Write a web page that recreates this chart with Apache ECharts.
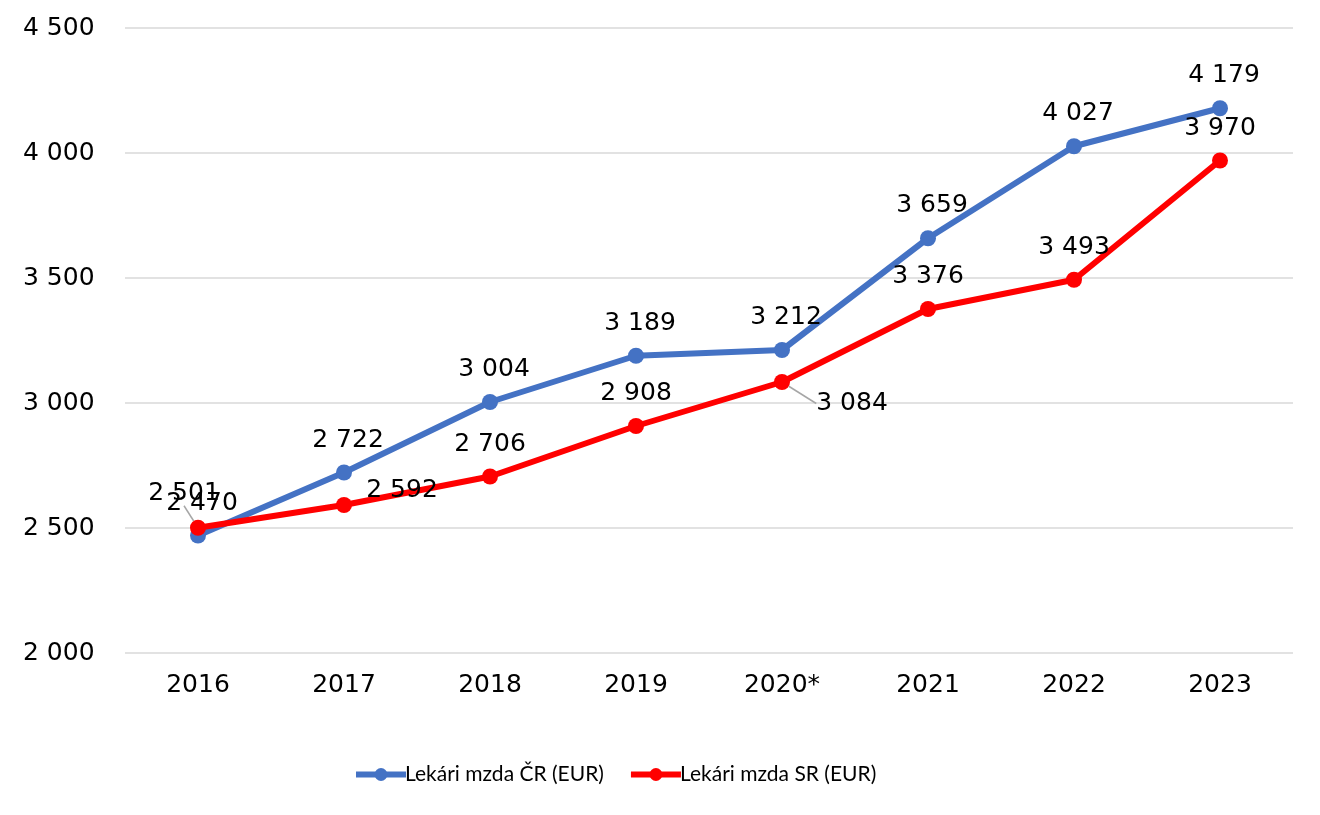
<!DOCTYPE html>
<html><head><meta charset="utf-8">
<script src="https://cdn.jsdelivr.net/npm/echarts@6/dist/echarts.min.js"></script>
<style>html,body{margin:0;padding:0;background:#fff}#c{width:1320px;height:815px}</style>
</head><body><div id="c"></div>
<script>
const categories = ['2016','2017','2018','2019','2020*','2021','2022','2023'];
const mzdaCR = [2470, 2722, 3004, 3189, 3212, 3659, 4027, 4179];
const mzdaSR = [2501, 2592, 2706, 2908, 3084, 3376, 3493, 3970];
const seriesNames = ['Lekári mzda ČR (EUR)', 'Lekári mzda SR (EUR)'];

const fmt = v => String(v).replace(/\B(?=(\d{3})+(?!\d))/g, ' ');
const labelFont = { fontFamily: 'DejaVu Sans', fontSize: 25, color: '#000' };
const guideIdx = [0, 4];

const chart = echarts.init(document.getElementById('c'), null, {renderer: 'canvas'});
chart.setOption({
  animation: false,
  backgroundColor: '#fff',
  grid: { left: 125, right: 27, top: 28, bottom: 162 },
  legend: {
    top: 759, left: 348, itemWidth: 50, itemHeight: 16, itemGap: 24,
    lineStyle: { width: 6 },
    textStyle: { fontFamily: 'Lato', fontSize: 21, color: '#000', padding: [0,0,0,-6] },
    data: seriesNames
  },
  xAxis: {
    type: 'category', data: categories, boundaryGap: true,
    axisLine: { show: false }, axisTick: { show: false },
    axisLabel: Object.assign({ margin: 20 }, labelFont)
  },
  yAxis: {
    type: 'value', min: 2000, max: 4500, interval: 500,
    axisLine: { show: false }, axisTick: { show: false },
    splitLine: { lineStyle: { color: '#d9d9d9', width: 1.5 } },
    axisLabel: Object.assign({ margin: 32, align: 'left', padding: [0,0,0,-70], formatter: fmt }, labelFont)
  },
  series: [
    {
      name: seriesNames[0], type: 'line', data: mzdaCR,
      color: '#4472C4', symbol: 'circle', symbolSize: 16,
      lineStyle: { width: 6 },
      label: Object.assign({ show: true, position: 'top', distance: 12, offset: [4, 0], formatter: p => fmt(p.value) }, labelFont),
      z: 2
    },
    {
      name: seriesNames[1], type: 'line',
      data: mzdaSR.map((v, i) => guideIdx.includes(i) ? { value: v, labelLine: { show: true } } : v),
      color: '#FF0000', symbol: 'circle', symbolSize: 16,
      lineStyle: { width: 6 },
      label: Object.assign({ show: true, position: 'top', distance: 12, offset: [4, 0], formatter: p => fmt(p.value) }, labelFont),
      labelLine: { show: false, lineStyle: { color: '#a6a6a6', width: 1.5 } },
      labelLayout: p => {
        if (p.dataIndex === 0) return { dx: -14, dy: -2 };
        if (p.dataIndex === 1) return { dx: 58, dy: 18 };
        if (p.dataIndex === 4) return { dx: 70, dy: 54 };
        return {};
      },
      z: 3
    }
  ]
});
</script></body></html>
